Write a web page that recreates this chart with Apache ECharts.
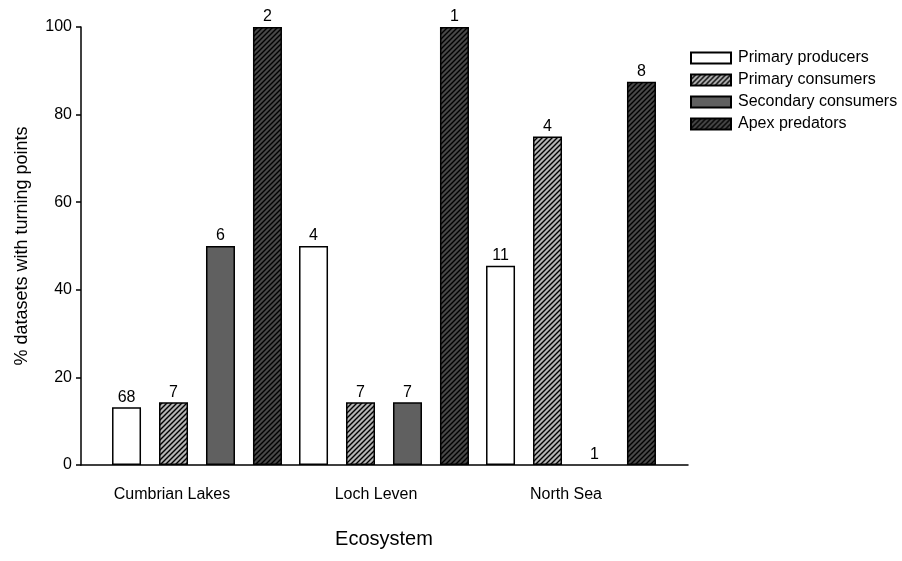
<!DOCTYPE html>
<html>
<head>
<meta charset="utf-8">
<script src="https://cdn.jsdelivr.net/npm/echarts@6/dist/echarts.min.js"></script>
<style>html,body{margin:0;padding:0;background:#fff;}#c{width:902px;height:561px;}</style>
</head>
<body>
<div id="c"></div>
<script>
const categories = ['Cumbrian Lakes', 'Loch Leven', 'North Sea'];
const seriesNames = ['Primary producers', 'Primary consumers', 'Secondary consumers', 'Apex predators'];
const primaryProducers = [13.2, 50, 45.5];
const primaryConsumers = [14.3, 14.3, 75];
const secondaryConsumers = [50, 14.3, 0];
const apexPredators = [100, 100, 87.5];
const countsProducers = [68, 4, 11];
const countsPrimaryCons = [7, 7, 4];
const countsSecondaryCons = [6, 7, 1];
const countsApex = [2, 1, 8];
const yTicks = [0, 20, 40, 60, 80, 100];

function stripe(bg) {
  const s = 5;
  const c = document.createElement('canvas');
  c.width = s; c.height = s;
  const g = c.getContext('2d');
  g.fillStyle = bg; g.fillRect(0, 0, s, s);
  g.strokeStyle = '#000'; g.lineWidth = 1.4;
  g.beginPath();
  g.moveTo(-1, s + 1); g.lineTo(s + 1, -1);
  g.moveTo(-1, 1); g.lineTo(1, -1);
  g.moveTo(s - 1, s + 1); g.lineTo(s + 1, s - 1);
  g.stroke();
  return { image: c, repeat: 'repeat' };
}

const values = [primaryProducers, primaryConsumers, secondaryConsumers, apexPredators];
const counts = [countsProducers, countsPrimaryCons, countsSecondaryCons, countsApex];
const fills = ['#ffffff', stripe('#b4b4b4'), '#606060', stripe('#484848')];

const font = 'Liberation Sans, Arial, sans-serif';
const chart = echarts.init(document.getElementById('c'), null, { renderer: 'canvas' });

const series = seriesNames.map((n, i) => ({
  name: n,
  type: 'bar',
  xAxisIndex: 1,
  yAxisIndex: 1,
  barWidth: 29,
  barGap: '62%',
  data: values[i].map(v => v === 0 ? { value: v, itemStyle: { borderWidth: 0, color: 'rgba(0,0,0,0)' } } : v),
  itemStyle: { color: fills[i], borderColor: '#000', borderWidth: 1.5 },
  label: {
    show: true,
    position: 'top',
    distance: 2,
    color: '#000',
    fontFamily: font,
    fontSize: 16,
    formatter: p => String(counts[i][p.dataIndex])
  },
  emphasis: { disabled: true },
  animation: false
}));

chart.setOption({
  animation: false,
  backgroundColor: '#fff',
  grid: [
    { left: 81, right: 214, top: 27, bottom: 96 },
    { left: 103.5, right: 237.5, top: 27, bottom: 96 },
    { left: 73.5, right: 237.5, top: 27, bottom: 96 }
  ],
  legend: {
    orient: 'vertical',
    left: 685,
    top: 44,
    itemWidth: 40,
    itemHeight: 11,
    itemGap: 4,
    icon: 'rect',
    textStyle: { fontFamily: font, fontSize: 16, color: '#000', lineHeight: 18, padding: [0, 0, 0, 2] },
    data: seriesNames
  },
  xAxis: [
    { type: 'category', gridIndex: 0, data: categories,
      axisLine: { show: true, lineStyle: { color: '#000', width: 1.5 } },
      axisTick: { show: false }, axisLabel: { show: false }, splitLine: { show: false } },
    { type: 'category', gridIndex: 1, data: categories,
      axisLine: { show: false }, axisTick: { show: false }, axisLabel: { show: false }, splitLine: { show: false },
      name: 'Ecosystem', nameLocation: 'middle', nameGap: 64,
      nameTextStyle: { fontFamily: font, fontSize: 20, color: '#000' } },
    { type: 'category', gridIndex: 2, data: categories,
      axisLine: { show: false }, axisTick: { show: false }, splitLine: { show: false },
      axisLabel: { show: true, margin: 22, color: '#000', fontFamily: font, fontSize: 16,
        formatter: (v, idx) => idx === 1 ? '{s|' + v + '}' : v,
        rich: { s: { fontFamily: font, fontSize: 16, color: '#000', padding: [0, 0, 0, 14] } } } }
  ],
  yAxis: [
    { type: 'value', gridIndex: 0, min: 0, max: 100, interval: 20,
      axisLine: { show: true, lineStyle: { color: '#000', width: 1.5 } },
      axisTick: { show: true, inside: false, length: 5, lineStyle: { color: '#000', width: 1.5 } },
      axisLabel: { show: true, margin: 9, color: '#000', fontFamily: font, fontSize: 16,
        formatter: v => yTicks.indexOf(v) >= 0 ? String(v) : '' },
      splitLine: { show: false },
      name: '% datasets with turning points', nameLocation: 'middle', nameGap: 50, nameRotate: 90,
      nameTextStyle: { fontFamily: font, fontSize: 18, color: '#000' } },
    { type: 'value', gridIndex: 1, min: 0, max: 100, interval: 20, show: false },
    { type: 'value', gridIndex: 2, min: 0, max: 100, interval: 20, show: false }
  ],
  series: series
});
</script>
</body>
</html>
